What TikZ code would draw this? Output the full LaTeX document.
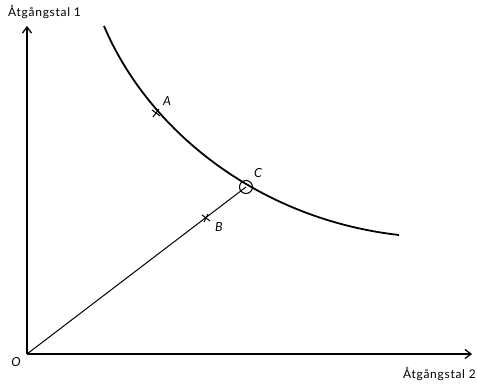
\documentclass[tikz,border=0pt]{standalone}
\usepackage{fontspec}
\setsansfont{Lato}[LetterSpace=6]
\usetikzlibrary{arrows.meta,calc}
\begin{document}
\begin{tikzpicture}[x=1pt,y=-1pt,
  lbl/.style={font=\sffamily\itshape\fontsize{12.5}{14}\selectfont, inner sep=0pt},
  axlbl/.style={font=\sffamily\fontsize{12}{14}\selectfont, inner sep=0pt},
  axis/.style={line width=1.3pt, -{Straight Barb[length=6pt,width=9pt]}},
  curve/.style={line width=1.8pt},
  ray/.style={line width=1pt},
  mark cross/.style={line width=1pt}]
\useasboundingbox (0,0) rectangle (477,387);
\coordinate (O) at (27,354);
\coordinate (Ytop) at (27,26);
\coordinate (Xend) at (472,354);
\coordinate (P0) at (104,26);
\coordinate (P3) at (399,235);
\coordinate (A) at (156,113);
\coordinate (B) at (206,218);
\coordinate (C) at (246,187);
\draw[axis] (O) -- (Ytop);
\draw[axis] (O) -- (Xend);
\draw[curve] (P0) .. controls (148,130) and (258,219) .. (P3);
\draw[ray] (O) -- (C);
\draw[ray] (C) circle (6.5);
\draw[mark cross] ($(A)+(-4,-3)$) -- ($(A)+(4,3)$) ($(A)+(-3,4)$) -- ($(A)+(3,-4)$);
\draw[mark cross] ($(B)+(-4,-3)$) -- ($(B)+(4,3)$) ($(B)+(-2,4)$) -- ($(B)+(2,-4)$);
\node[lbl] (la) at (167,101) {A};
\node[lbl] (lb) at (219,227) {B};
\node[lbl] (lc) at (258,173) {C};
\node[lbl] (lo) at (16,362) {O};
\node[axlbl, anchor=west] (ly) at (8,12) {Åtgångstal 1};
\node[axlbl, anchor=east] (lx) at (476,374) {Åtgångstal 2};
\end{tikzpicture}
\end{document}
